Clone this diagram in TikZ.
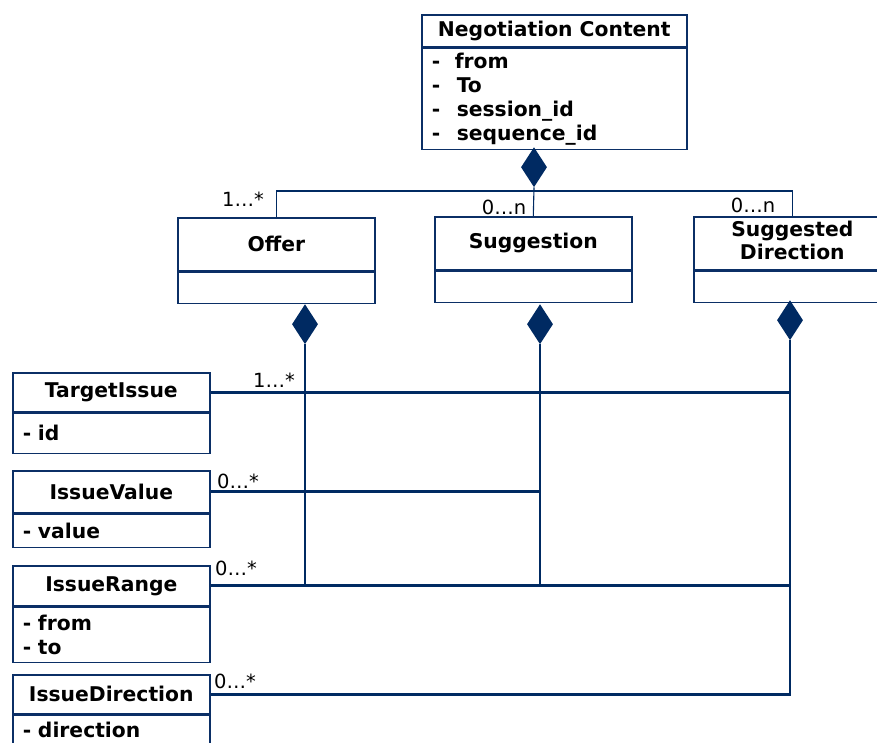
\documentclass[tikz,border=0pt]{standalone}
\usepackage{fontspec}
\setmainfont{DejaVu Sans}
\usetikzlibrary{shapes.geometric}
\definecolor{navy}{HTML}{0B2F66}
\definecolor{linknavy}{HTML}{002A62}

\tikzset{
  classhead/.style={draw=navy, line width=1.6pt, anchor=north west, inner sep=0pt,
    font=\fontsize{20.3}{23}\selectfont\bfseries, align=center},
  classbody/.style={draw=navy, line width=1.6pt, anchor=north west, inner xsep=10pt,
    inner ysep=0pt, font=\fontsize{20.3}{24}\selectfont\bfseries, align=left},
  compdia/.style={diamond, fill=linknavy, draw=none, inner sep=0pt,
    minimum width=26pt, minimum height=40pt, anchor=north},
  buslink/.style={draw=linknavy, line width=1.1pt},
  assoc/.style={draw=linknavy, line width=2.8pt},
  mult/.style={font=\fontsize{19.5}{21}\selectfont, inner sep=0pt}
}

\begin{document}
\begin{tikzpicture}[x=1pt, y=-1pt]
  \useasboundingbox (0,0) rectangle (877,742);

  % root class
  \node[classhead, minimum width=265pt, minimum height=32pt] (nc) at (421,14) {Negotiation Content};
  \node[classbody, text width=245pt, minimum height=101pt] (ncb) at (nc.south west)
    {\makebox[23pt][l]{-}from\\\makebox[25pt][l]{-}To\\\makebox[25pt][l]{-}session\_id\\\makebox[25pt][l]{-}sequence\_id};
  \node[compdia] (ncd) at (534,147) {};

  % message kinds
  \node[classhead, minimum width=197pt, minimum height=53pt] (off) at (177,217) {Offer};
  \node[classbody, text width=177pt, minimum height=31pt] (offb) at (off.south west) {};
  \node[classhead, minimum width=197pt, minimum height=53pt] (sug) at (434,216) {Suggestion};
  \node[classbody, text width=177pt, minimum height=31pt] (sugb) at (sug.south west) {};
  \node[classhead, minimum width=197pt, minimum height=53pt] (sd) at (693,216)
    {\raisebox{3pt}{\begin{tabular}{@{}c@{}}Suggested\\Direction\end{tabular}}};
  \node[classbody, text width=177pt, minimum height=31pt] (sdb) at (sd.south west) {};

  \node[compdia] (offd) at (305,304) {};
  \node[compdia] (sugd) at (540,304) {};
  \node[compdia] (sdd) at (790,300) {};

  % issue classes
  \node[classhead, minimum width=197pt, minimum height=39pt] (ti) at (12,372) {TargetIssue};
  \node[classbody, text width=177pt, minimum height=40pt] (tib) at (ti.south west) {- id};
  \node[classhead, minimum width=197pt, minimum height=42pt] (iv) at (12,470) {IssueValue};
  \node[classbody, text width=177pt, minimum height=33pt] (ivb) at (iv.south west) {- value};
  \node[classhead, minimum width=197pt, minimum height=40pt] (ir) at (12,565) {IssueRange};
  \node[classbody, text width=177pt, minimum height=55pt] (irb) at (ir.south west) {- from\\- to};
  \node[classhead, minimum width=197pt, minimum height=39pt] (idr) at (12,674) {IssueDirection};
  \node[classbody, text width=177pt, minimum height=29pt] (idrb) at (idr.south west) {- direction};

  % composition from the root
  \coordinate (bus) at (534,191);
  \draw[buslink] (off.north) |- (bus) -| (sd.north);
  \draw[buslink] (ncd.south) -- (sug.north);

  % compositions to the issue classes
  \draw[assoc] (ti.east) -- (ti.east -| sdd.south);
  \draw[assoc] (iv.east) -- (iv.east -| sugd.south);
  \draw[assoc] (ir.east) -- (ir.east -| sdd.south);
  \draw[assoc] (offd.south) -- (offd.south |- ir.east);
  \draw[assoc] (sugd.south) -- (sugd.south |- ir.east);
  \draw[assoc] (idr.east) -| (sdd.south);

  % multiplicities
  \node[mult] (m1) at (243,199) {1…*};
  \node[mult] (m2) at (504,207) {0…n};
  \node[mult] (m3) at (753,205) {0…n};
  \node[mult] (m4) at (274,380) {1…*};
  \node[mult] (m5) at (238,481) {0…*};
  \node[mult] (m6) at (236,568) {0…*};
  \node[mult] (m7) at (235,681) {0…*};
\end{tikzpicture}
\end{document}
